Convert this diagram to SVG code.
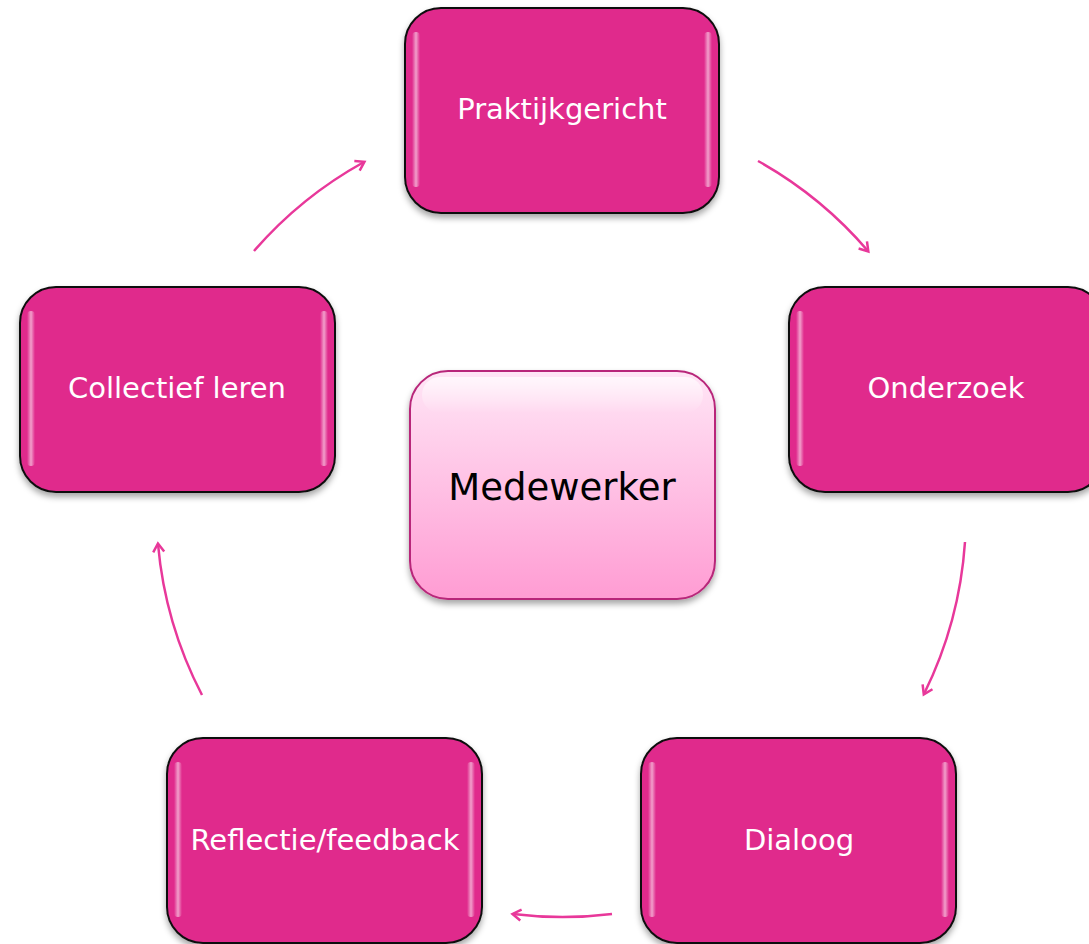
<svg xmlns="http://www.w3.org/2000/svg" width="1089" height="944" viewBox="0 0 1089 944">
<style>
.node{fill:#E0298C;stroke:#111;stroke-width:2}
.lbl{font-family:"DejaVu Sans",Verdana,sans-serif;font-size:29px;fill:#fff;text-anchor:middle;dominant-baseline:central}
.conn{fill:none;stroke:#E8389A;stroke-width:2.5}
.shine{fill:url(#side)}
</style>
<defs>
<filter id="sh" x="-10%" y="-10%" width="120%" height="130%">
<feDropShadow dx="0" dy="4" stdDeviation="3" flood-color="#000" flood-opacity="0.35"/>
</filter>
<linearGradient id="side" x1="0" y1="0" x2="1" y2="0">
<stop offset="0" stop-color="#fff" stop-opacity="0"/>
<stop offset="0.5" stop-color="#fff" stop-opacity="0.55"/>
<stop offset="1" stop-color="#fff" stop-opacity="0"/>
</linearGradient>
<linearGradient id="ctr" x1="0" y1="0" x2="0" y2="1">
<stop offset="0" stop-color="#FFE6F6"/>
<stop offset="1" stop-color="#FF9CD3"/>
</linearGradient>
<linearGradient id="ctrTop" x1="0" y1="0" x2="0" y2="1">
<stop offset="0" stop-color="#fff" stop-opacity="0.7"/>
<stop offset="1" stop-color="#fff" stop-opacity="0"/>
</linearGradient>
<marker id="ah" markerWidth="14" markerHeight="14" refX="10" refY="7" orient="auto" markerUnits="userSpaceOnUse">
<path d="M2,1.5 L10.5,7 L2,12.5" fill="none" stroke="#E8389A" stroke-width="2.5"/>
</marker>
</defs>

<g id="connectors">
<path class="conn" d="M758,161 A404,404 0 0 1 868,251" marker-end="url(#ah)"/>
<path class="conn" d="M965,542 A404,404 0 0 1 924,694" marker-end="url(#ah)"/>
<path class="conn" d="M612,914 A404,404 0 0 1 513,914" marker-end="url(#ah)"/>
<path class="conn" d="M202,695 A404,404 0 0 1 158,544" marker-end="url(#ah)"/>
<path class="conn" d="M254,251 A404,404 0 0 1 364,162" marker-end="url(#ah)"/>
</g>

<g id="node-praktijkgericht">
<rect class="node" x="405" y="8" width="314" height="205" rx="36" filter="url(#sh)"/>
<rect class="shine" x="412" y="32" width="8" height="155" rx="4"/>
<rect class="shine" x="704" y="32" width="8" height="155" rx="4"/>
<text class="lbl" x="562" y="109">Praktijkgericht</text>
</g>

<g id="node-onderzoek">
<rect class="node" x="789" y="287" width="315" height="205" rx="36" filter="url(#sh)"/>
<rect class="shine" x="796" y="311" width="8" height="155" rx="4"/>
<text class="lbl" x="946" y="388">Onderzoek</text>
</g>

<g id="node-dialoog">
<rect class="node" x="641" y="738" width="315" height="205" rx="36" filter="url(#sh)"/>
<rect class="shine" x="648" y="762" width="8" height="155" rx="4"/>
<rect class="shine" x="941" y="762" width="8" height="155" rx="4"/>
<text class="lbl" x="799" y="840">Dialoog</text>
</g>

<g id="node-reflectie">
<rect class="node" x="167" y="738" width="315" height="205" rx="36" filter="url(#sh)"/>
<rect class="shine" x="174" y="762" width="8" height="155" rx="4"/>
<rect class="shine" x="467" y="762" width="8" height="155" rx="4"/>
<text class="lbl" x="325" y="840">Reflectie/feedback</text>
</g>

<g id="node-collectief">
<rect class="node" x="20" y="287" width="315" height="205" rx="36" filter="url(#sh)"/>
<rect class="shine" x="27" y="311" width="8" height="155" rx="4"/>
<rect class="shine" x="320" y="311" width="8" height="155" rx="4"/>
<text class="lbl" x="177" y="388">Collectief leren</text>
</g>

<g id="node-medewerker">
<rect x="410" y="371" width="305" height="228" rx="38" fill="url(#ctr)" stroke="#B8287A" stroke-width="2" filter="url(#sh)"/>
<rect x="422" y="377" width="281" height="36" rx="18" fill="url(#ctrTop)"/>
<text x="562" y="487" font-family="DejaVu Sans, Verdana, sans-serif" font-size="37" fill="#000" text-anchor="middle" dominant-baseline="central">Medewerker</text>
</g>
</svg>
